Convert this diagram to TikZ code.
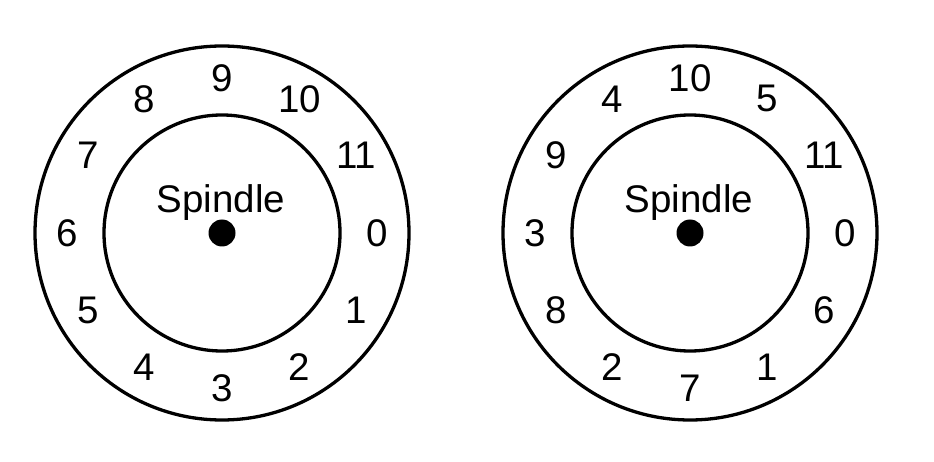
\documentclass[tikz,border=0pt]{standalone}
\usepackage{fontspec}
\setmainfont{Liberation Sans}
\usetikzlibrary{calc}
\begin{document}
\begin{tikzpicture}[x=1pt,y=-1pt,
  ring/.style={draw=black,line width=3.3pt},
  hub/.style={circle,fill=black,inner sep=0pt,minimum size=27pt},
  lbl/.style={font=\fontsize{38.5}{46}\selectfont,inner sep=0pt},
  splbl/.style={font=\fontsize{38.5}{46}\selectfont,inner sep=0pt,anchor=base}]
\useasboundingbox (0,0) rectangle (934,462);
% left disc
\coordinate (cl) at (222,233);
\draw[ring] (cl) circle[radius=187];
\draw[ring] (cl) circle[radius=118];
\node[hub] (hl) at (cl) {};
\node[splbl] (sl) at (221,213) {Spindle};
\foreach \k in {0,...,11}{
  \node[lbl] (l\k) at ($(cl)+({-30*\k}:155 and -155)$) {\k};
}
% right disc
\coordinate (cr) at (690,233);
\draw[ring] (cr) circle[radius=187];
\draw[ring] (cr) circle[radius=118];
\node[hub] (hr) at (cr) {};
\node[splbl] (sr) at (689,213) {Spindle};
\foreach \k/\v in {0/0,1/6,2/1,3/7,4/2,5/8,6/3,7/9,8/4,9/10,10/5,11/11}{
  \node[lbl] (r\k) at ($(cr)+({-30*\k}:155 and -155)$) {\v};
}
\end{tikzpicture}
\end{document}
